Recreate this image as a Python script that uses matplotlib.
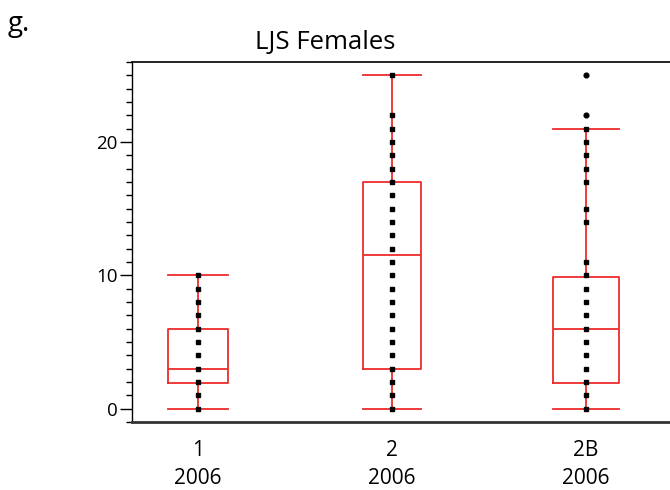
import matplotlib
matplotlib.use('Agg')
import matplotlib.pyplot as plt
from matplotlib.ticker import MultipleLocator

plt.rcParams['font.family'] = ['Open Sans', 'DejaVu Sans']

# ---- data ----
tick_labels = ['1\n2006', '2\n2006', '2B\n2006']
positions = [0, 1, 2]
q1 = [1.9, 3.0, 1.9]
med = [3.0, 11.5, 6.0]
q3 = [6.0, 17.0, 9.9]
whislo = [0, 0, 0]
whishi = [10, 25, 21]
box_widths = [0.31, 0.30, 0.34]
points_g1 = [0, 1, 2, 3, 4, 5, 6, 7, 8, 9, 10]
points_g2 = [0, 1, 2, 3, 4, 5, 6, 7, 8, 9, 10, 11, 12, 13, 14, 15, 16, 17,
             18, 19, 20, 21, 22, 25]
points_g3 = [0, 1, 2, 3, 4, 5, 6, 7, 8, 9, 10, 11, 14, 15, 17, 18, 19, 20, 21]
outliers_g3 = [22, 25]

RED = '#EE2B2B'

fig = plt.figure(figsize=(6.7, 4.9), dpi=100)
ax = fig.add_axes([132 / 670, 1 - 422 / 490, (675 - 132) / 670, 360 / 490])

stats = []
for i in range(3):
    stats.append(dict(med=med[i], q1=q1[i], q3=q3[i],
                      whislo=whislo[i], whishi=whishi[i], fliers=[]))

ax.bxp(stats, positions=positions, widths=box_widths, capwidths=box_widths,
       showfliers=False, patch_artist=False,
       boxprops=dict(color=RED, linewidth=1.3),
       medianprops=dict(color=RED, linewidth=1.3),
       whiskerprops=dict(color=RED, linewidth=1.3),
       capprops=dict(color=RED, linewidth=1.3))

for pos, pts in zip(positions, [points_g1, points_g2, points_g3]):
    ax.plot([pos] * len(pts), pts, linestyle='none', marker='s',
            ms=3.4, color='black', zorder=5)
ax.plot([positions[2]] * len(outliers_g3), outliers_g3, linestyle='none',
        marker='o', ms=3.4, color='black', zorder=5)

ax.set_xlim(-0.34, 2.46)
ax.set_ylim(-1, 26)

ax.set_xticks(positions)
ax.set_xticklabels(tick_labels, fontsize=15, linespacing=1.45)
ax.tick_params(axis='x', length=0, pad=13)

ax.yaxis.set_major_locator(MultipleLocator(10))
ax.yaxis.set_minor_locator(MultipleLocator(1))
ax.tick_params(axis='y', which='major', length=8.5, width=1.0, labelsize=13.5, pad=2)
ax.tick_params(axis='y', which='minor', length=4.3, width=1.0)

ax.spines['right'].set_visible(False)
ax.spines['top'].set_linewidth(1.2)
ax.spines['left'].set_linewidth(1.0)
ax.spines['bottom'].set_linewidth(2.0)
ax.spines['bottom'].set_color('#333333')

fig.text(325.5 / 670, 1 - 49.5 / 490, 'LJS Females', ha='center',
         va='baseline', fontsize=18.5)
fig.text(8 / 670, 1 - 31 / 490, 'g.', ha='left', va='baseline', fontsize=20)

fig.savefig('out.png', dpi=100)
